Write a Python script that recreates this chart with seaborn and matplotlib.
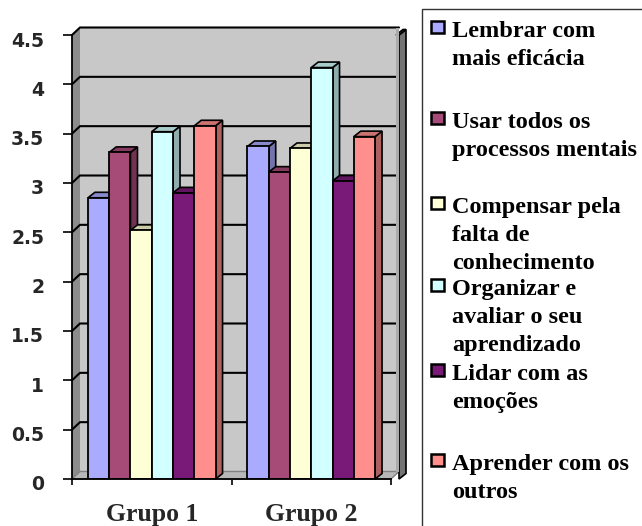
import numpy as np
import pandas as pd
import matplotlib
matplotlib.use("Agg")
import matplotlib.pyplot as plt
import seaborn as sns
from matplotlib.patches import Polygon, Rectangle
from matplotlib.transforms import ScaledTranslation
from matplotlib.colors import to_rgb

# --- data -------------------------------------------------------------
grupos = ["Grupo 1", "Grupo 2"]
estrategias = [
    "Lembrar com\nmais eficácia",
    "Usar todos os\nprocessos mentais",
    "Compensar pela\nfalta de\nconhecimento",
    "Organizar e\navaliar o seu\naprendizado",
    "Lidar com as\nemoções",
    "Aprender com os\noutros",
]
valores_grupo1 = [2.85, 3.31, 2.52, 3.52, 2.90, 3.58]
valores_grupo2 = [3.37, 3.11, 3.35, 4.17, 3.02, 3.47]
cores = ["#AAAAFF", "#A64A78", "#FFFFD6", "#D2FFFF", "#7A1A78", "#FF8F8C"]
yticks = [0, 0.5, 1, 1.5, 2, 2.5, 3, 3.5, 4, 4.5]

df = pd.DataFrame({
    "grupo": np.repeat(grupos, len(estrategias)),
    "estrategia": estrategias * len(grupos),
    "valor": valores_grupo1 + valores_grupo2,
})

# --- figure -----------------------------------------------------------
sns.set_style("white")
plt.rcParams["font.family"] = ["DejaVu Sans"]

W, H = 642, 526
fig = plt.figure(figsize=(W / 100, H / 100), dpi=100)
ax_l, ax_b, ax_w, ax_h = 72, 47, 319, 444          # front plane, pixels
ax = fig.add_axes([ax_l / W, ax_b / H, ax_w / W, ax_h / H])
ax.set_facecolor("none")

XMIN, XMAX, YMAX = -0.5, 1.5, 4.5
px_x = (XMAX - XMIN) / ax_w
px_y = YMAX / ax_h

sns.barplot(data=df, x="grupo", y="valor", hue="estrategia",
            hue_order=estrategias, order=grupos, palette=cores,
            saturation=1, width=0.8, edgecolor="black", linewidth=1.3,
            legend=False, ax=ax)
ax.set_xlim(XMIN, XMAX)
ax.set_ylim(0, YMAX)

# --- 3D box: walls, floor, gridlines ---------------------------------
wdx, wdy = 8 * px_x, 7.5 * px_y
ax.add_patch(Rectangle((XMIN + wdx, wdy), XMAX - XMIN, YMAX,
                       fc="#C8C8C8", ec="none", zorder=0.5, clip_on=False))
ax.add_patch(Rectangle((XMAX + wdx - 3 * px_x, wdy), 3 * px_x, YMAX,
                       fc="#ABABAB", ec="none", zorder=0.6, clip_on=False))
ax.add_patch(Polygon([(XMIN, 0), (XMIN + wdx, wdy), (XMIN + wdx, YMAX + wdy),
                      (XMIN, YMAX)], closed=True, fc="#8C8C8C",
                     ec="none", zorder=0.6, clip_on=False))
ax.add_patch(Polygon([(XMIN, 0), (XMAX, 0), (XMAX + wdx, wdy),
                      (XMIN + wdx, wdy)], closed=True, fc="#B8B8B8",
                     ec="#808080", lw=1.0, zorder=0.7, clip_on=False))
for v in yticks[1:]:
    ax.plot([XMIN, XMIN + wdx, XMAX + wdx], [v, v + wdy, v + wdy],
            color="black", lw=1.5, zorder=1, clip_on=False,
            solid_joinstyle="miter")


def shade(c, f):
    r, g, b = to_rgb(c)
    return (r * f, g * f, b * f)


# --- extrude bars ------------------------------------------------------
bdx, bdy = 7 * px_x, 5.5 * px_y
bars = sorted([p for p in ax.patches if isinstance(p, Rectangle)
               and p.get_height() > 0 and p.get_zorder() < 2],
              key=lambda p: p.get_x())
bars = [p for p in bars if p.get_width() < 0.5]
for k, p in enumerate(bars):
    x0, w, h = p.get_x(), p.get_width(), p.get_height()
    fc = p.get_facecolor()
    base = 3 + 2 * k
    p.set_zorder(base + 1)
    ax.add_patch(Polygon([(x0 + w, 0), (x0 + w + bdx, bdy),
                          (x0 + w + bdx, h + bdy), (x0 + w, h)], closed=True,
                         fc=shade(fc, 0.68), ec="black", lw=1.2,
                         zorder=base, clip_on=False))
    ax.add_patch(Polygon([(x0, h), (x0 + w, h), (x0 + w + bdx, h + bdy),
                          (x0 + bdx, h + bdy)], closed=True,
                         fc=shade(fc, 0.8), ec="black", lw=1.2,
                         zorder=base, clip_on=False))

# --- axes styling ------------------------------------------------------
for s in ["top", "right"]:
    ax.spines[s].set_visible(False)
for s in ["left", "bottom"]:
    ax.spines[s].set_color("black")
    ax.spines[s].set_linewidth(1.3)
    ax.spines[s].set_zorder(50)

ax.set_yticks(yticks)
ax.set_yticklabels([f"{v:g}" for v in yticks])
ax.tick_params(axis="y", length=6.5, width=1.2, color="black",
               direction="out", pad=13.5, left=True)
for lab in ax.get_yticklabels():
    lab.set_fontweight("bold")
    lab.set_fontsize(13.5)
    lab.set_transform(lab.get_transform() +
                      ScaledTranslation(0, -4 / 100, fig.dpi_scale_trans))

ax.set_xticks([0, 1])
ax.set_xticklabels(grupos)
ax.set_xticks([-0.5, 0.5, 1.5], minor=True)
ax.tick_params(axis="x", which="major", length=0, pad=17)
ax.tick_params(axis="x", which="minor", length=4.3, width=1.2,
               color="black", direction="out", bottom=True)
for lab in ax.get_xticklabels():
    lab.set_fontfamily("Liberation Serif")
    lab.set_fontweight("bold")
    lab.set_fontsize(18.5)
ax.set_xlabel("")
ax.set_ylabel("")

# --- legend box --------------------------------------------------------
fig.add_artist(Rectangle((422 / W, -0.1), 0.5, 1 - 9 / H + 0.1,
                         transform=fig.transFigure, fill=False,
                         ec="#333333", lw=1.0, clip_on=False))
legend_baselines = [37, 128, 213, 295, 380, 470]
line_step = 28
for label, cor, yb in zip(estrategias, cores, legend_baselines):
    fig.add_artist(Rectangle((431 / W, 1 - (yb - 4) / H), 13 / W, 12 / H,
                             transform=fig.transFigure, fc=cor,
                             ec="black", lw=1.8))
    for i, linha in enumerate(label.split("\n")):
        fig.text(452 / W, 1 - (yb + i * line_step) / H, linha,
                 family="Liberation Serif", weight="bold", size=17.5,
                 ha="left", va="baseline", color="black")

fig.savefig("out.png", dpi=100)
